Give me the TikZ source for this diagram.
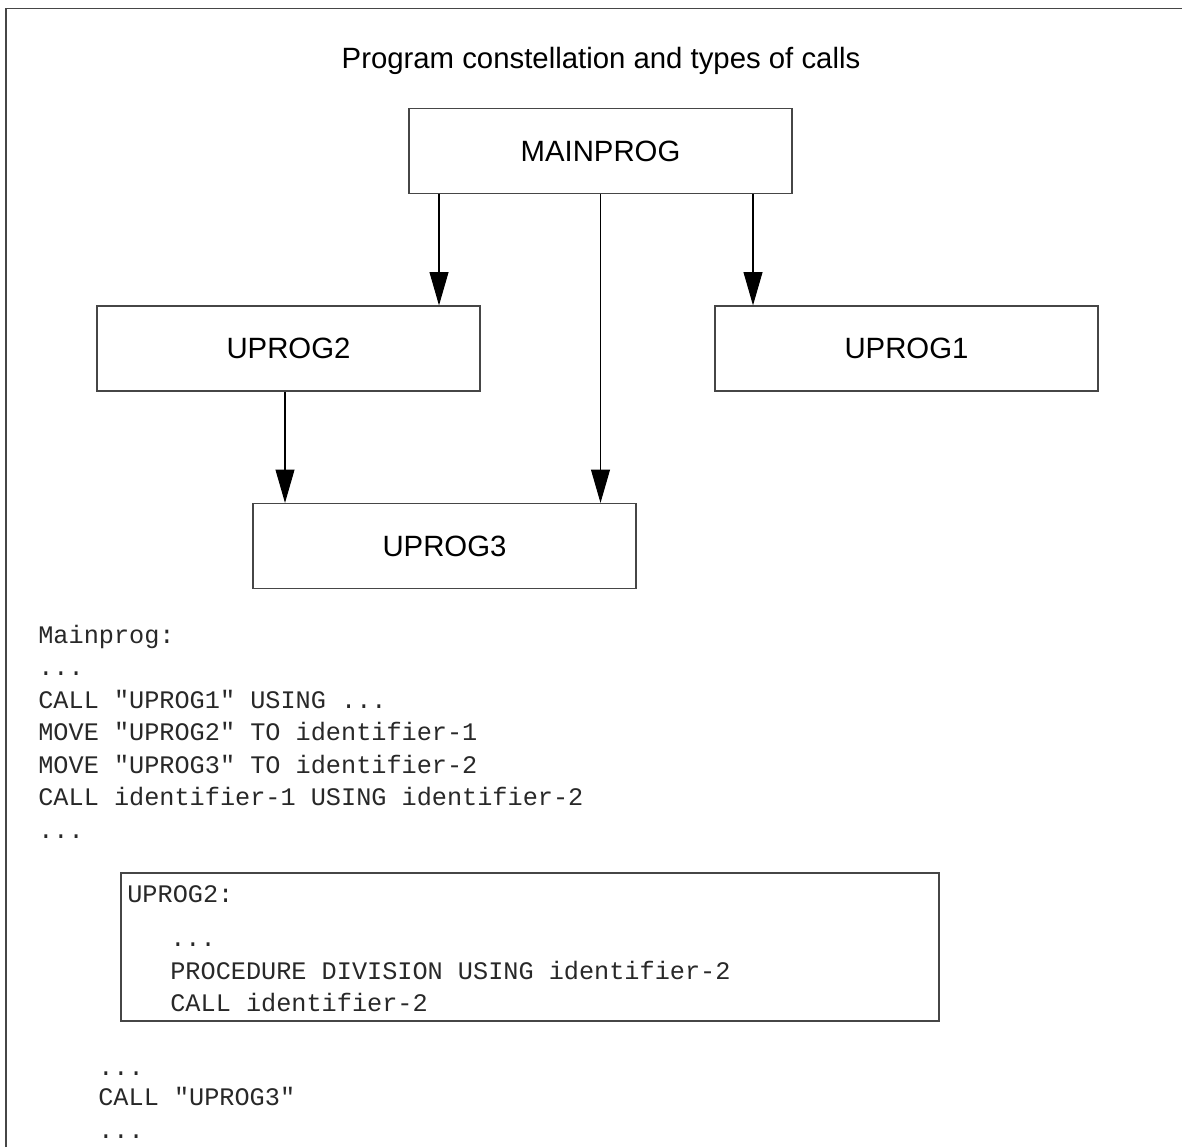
\documentclass[tikz,border=0pt]{standalone}
\usepackage{fontspec}
\setmainfont{Liberation Sans}
\setmonofont{Liberation Mono}
\usetikzlibrary{arrows.meta, positioning}
\definecolor{boxgray}{RGB}{70, 70, 70}
\definecolor{codegray}{RGB}{40, 40, 40}
\newcommand{\codedots}{...}

\begin{document}
\begin{tikzpicture}[x=0.02cm, y=-0.02cm,
    prog/.style={draw=boxgray, line width=0.7pt, inner sep=0pt,
      minimum width=7.66cm, minimum height=1.7cm,
      font=\fontsize{16.7}{20}\selectfont},
    call/.style={-{Triangle[length=19pt, width=10.8pt]}, line width=0.6pt},
    codeline/.style={anchor=base west, inner sep=0pt, text=codegray,
      font=\ttfamily\fontsize{14.36}{17}\selectfont}]

  \useasboundingbox (0, 0) rectangle (1182, 1147);
  \draw[boxgray, line width=1pt] (6, 1147) -- (6, 8.5) -- (1182, 8.5);

  \node[anchor=base, font=\fontsize{16.7}{20}\selectfont] (title) at (601, 68)
    {Program constellation and types of calls};

  % program boxes
  \node[prog] (main) at (600.5, 151) {MAINPROG};
  \node[prog] (up2) at (288.5, 348.5) {UPROG2};
  \node[prog] (up1) at (906.5, 348.5) {UPROG1};
  \node[prog] (up3) at (444.5, 546) {UPROG3};

  \draw[call] (main.south -| 439,0) -- (up2.north -| 439,0);
  \draw[call] (main.south -| 753,0) -- (up1.north -| 753,0);
  \draw[call] (main.south) -- (main.south |- up3.north);
  \draw[call] (up2.south -| 285,0) -- (up3.north -| 285,0);

  % calling program
  \foreach \txt [count=\i from 0] in {Mainprog:, \codedots,
      CALL "UPROG1" USING \codedots, MOVE "UPROG2" TO identifier-1,
      MOVE "UPROG3" TO identifier-2, CALL identifier-1 USING identifier-2,
      \codedots} {
    \node[codeline] (m\i) at (38, {643 + 32.5*\i}) {\txt};
  }

  % called program
  \node[draw=boxgray, line width=0.7pt, inner sep=0pt,
    minimum width=16.36cm, minimum height=2.96cm] (sub) at (530, 947) {};
  \node[codeline] (s0) at (127, 902) {UPROG2:};
  \node[codeline] (s1) at (170, 946) {\codedots};
  \node[codeline] (s2) at (170, 979) {PROCEDURE DIVISION USING identifier-2};
  \node[codeline] (s3) at (170, 1011) {CALL identifier-2};

  \node[codeline] (b0) at (98, 1075) {\codedots};
  \node[codeline] (b1) at (98, 1105) {CALL "UPROG3"};
  \node[codeline] (b2) at (98, 1138) {\codedots};

\end{tikzpicture}
\end{document}
